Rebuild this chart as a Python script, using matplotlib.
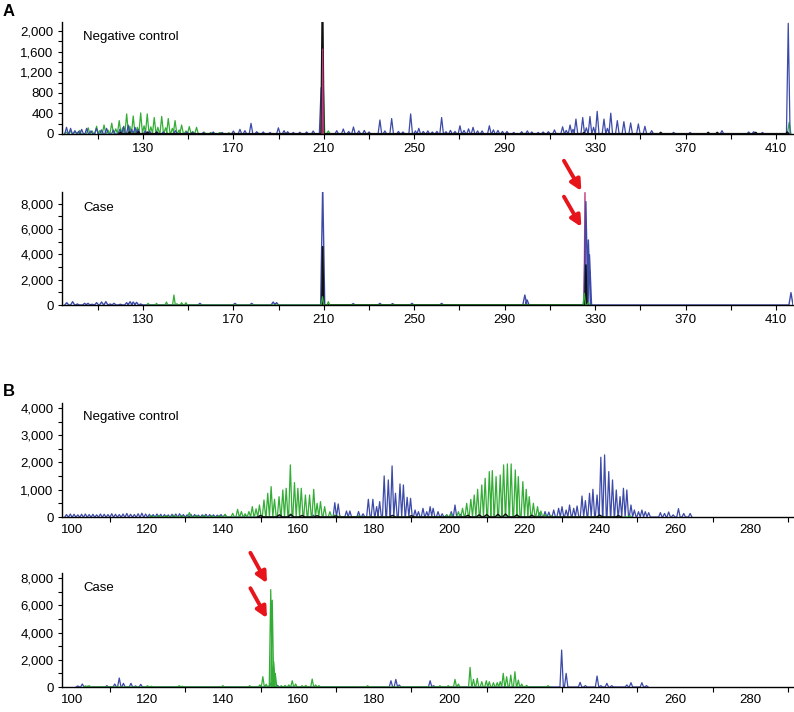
import numpy as np
import matplotlib.pyplot as plt
from matplotlib.ticker import FuncFormatter, MultipleLocator, FixedLocator

plt.rcParams['font.family'] = ['Liberation Sans', 'DejaVu Sans']

BLUE = '#3c4aa8'
GREEN = '#33ad36'
BLACK = '#111111'
MAGENTA = '#c23a80'

# ------------------------------
# Panel A - negative control (peak size in bp, height in RFU)
# ------------------------------
a1_blue_pos = [96.2, 98.0, 99.9, 101.5, 102.9, 105.1, 107.0, 109.4, 111.7, 113.9, 116.9, 119.8,
               121.5, 123.5, 125.0, 126.5, 127.9, 131.0, 133.0, 136.2, 139.0, 144.3, 149.4, 152.0,
               156.8, 161.1, 165.0, 170.0, 172.9, 175.1, 177.8, 180.3, 183.2, 186.2, 189.9, 192.4,
               194.0, 196.5, 199.4, 202.4, 205.3, 208.8, 215.7, 218.6, 221.0, 223.1, 225.5, 227.9,
               230.0, 234.8, 237.0, 240.0, 243.0, 245.0, 248.4, 250.5, 252.0, 254.0, 256.0, 258.0,
               260.0, 262.1, 264.0, 266.0, 268.0, 270.2, 272.0, 274.0, 276.0, 278.0, 280.0, 283.2,
               285.0, 287.0, 289.0, 291.0, 294.0, 297.5, 300.0, 302.0, 304.8, 307.0, 309.3, 312.0,
               315.6, 317.2, 318.9, 320.2, 321.5, 324.5, 326.1, 327.7, 329.3, 330.9, 333.9, 335.4,
               336.9, 339.8, 342.7, 345.7, 349.1, 352.0, 355.0, 364.7, 372.0, 386.1, 397.9, 400.1,
               404.0, 415.4]
a1_blue_ht = [130, 110, 65, 50, 90, 110, 60, 110, 80, 110, 78, 90,
              150, 170, 90, 130, 90, 60, 50, 45, 40, 65, 40, 35,
              30, 40, 30, 58, 90, 65, 207, 45, 40, 30, 120, 65,
              45, 30, 35, 40, 58, 900, 65, 97, 50, 136, 60, 70,
              40, 272, 60, 300, 50, 40, 390, 60, 110, 50, 60, 40,
              50, 320, 45, 70, 50, 160, 70, 100, 130, 60, 60, 160,
              80, 70, 50, 50, 30, 45, 60, 40, 30, 40, 45, 80,
              140, 70, 175, 90, 290, 320, 120, 340, 130, 440, 290, 110,
              405, 260, 240, 215, 195, 150, 65, 32, 30, 65, 40, 45,
              30, 2150]

a1_green_pos = [96.0, 98.0, 100.0, 102.0, 105.8, 107.5, 109.5, 111.0, 112.8, 114.5, 116.2, 118.0,
                119.5, 121.0, 122.8, 124.2, 125.7, 127.5, 129.0, 130.5, 131.9, 133.5, 135.0, 136.6,
                138.3, 140.0, 141.2, 143.0, 144.2, 146.0, 147.1, 149.0, 150.5, 152.0, 153.7, 157.0,
                160.0, 164.0, 168.0, 181.0, 209.6, 212.0, 415.8]
a1_green_ht = [40, 60, 50, 70, 120, 60, 150, 70, 175, 80, 210, 100,
               260, 120, 390, 150, 350, 130, 410, 160, 390, 140, 320, 130,
               340, 120, 300, 110, 260, 80, 175, 60, 145, 50, 130, 40,
               30, 30, 25, 20, 1200, 60, 225]

a1_black_pos = [120.0, 124.0, 128.0, 132.0, 136.0, 209.4, 325.0, 359.0, 380.0, 384.0, 401.0, 415.0]
a1_black_ht = [25, 30, 35, 30, 25, 2300, 20, 25, 25, 25, 25, 30]

a1_magenta_pos = [209.5]
a1_magenta_ht = [1650]

# ------------------------------
# Panel A - case
# ------------------------------
a2_blue_pos = [96.3, 98.9, 101.0, 104.2, 105.7, 107.5, 109.5, 111.7, 113.6, 115.5, 117.2, 120.0,
               122.8, 124.3, 125.7, 127.2, 129.0, 155.2, 170.7, 178.1, 187.6, 189.1, 209.5, 223.0,
               234.8, 240.4, 249.0, 262.1, 298.9, 299.9, 325.9, 327.0, 327.5, 416.6]
a2_blue_ht = [184, 263, 80, 132, 132, 60, 184, 237, 263, 80, 132, 60,
              184, 263, 237, 210, 80, 130, 130, 130, 237, 184, 9500, 110,
              130, 110, 130, 130, 790, 395, 8170, 5140, 3950, 975]

a2_green_pos = [132.3, 136.0, 140.4, 143.7, 145.0, 147.1, 149.0, 209.4, 212.0, 325.2, 327.0]
a2_green_ht = [130, 130, 237, 790, 100, 184, 184, 660, 263, 920, 180]

a2_black_pos = [209.5, 325.9]
a2_black_ht = [4600, 3160]

a2_magenta_pos = [209.5, 325.5]
a2_magenta_ht = [1450, 8880]

# ------------------------------
# Panel B - negative control
# ------------------------------
b1_blue_pos = [98.5, 99.5, 100.5, 101.5, 102.5, 103.5, 104.5, 105.5, 106.5, 107.5, 108.5, 109.5,
               110.5, 111.5, 112.5, 113.5, 114.5, 115.5, 116.5, 117.5, 118.5, 119.5, 120.5, 121.5,
               122.5, 123.5, 124.5, 125.5, 126.5, 127.5, 128.5, 129.5, 130.5, 131.5, 132.5, 133.5,
               134.5, 135.5, 136.5, 137.5, 138.5, 139.5, 140.5,
               146.0, 150.0, 158.0, 164.0, 169.7, 170.6, 172.8, 173.7, 176.0, 177.2, 178.6, 179.8,
               180.8, 181.6, 182.8, 183.9, 184.9, 185.8, 187.0, 187.9, 188.9, 189.8, 191.0, 191.9,
               193.1, 194.1, 195.0, 195.8, 197.1, 198.2, 199.4, 200.6, 201.6, 203.0, 224.0, 225.5,
               226.5, 227.8, 229.1, 230.0, 231.1, 232.0, 233.1, 234.0, 235.3, 236.2, 237.3, 238.2,
               239.3, 240.3, 241.3, 242.4, 243.4, 244.4, 245.4, 246.3, 247.2, 248.3, 249.2, 250.3,
               251.2, 252.1, 253.0, 256.1, 257.2, 258.3, 259.5, 260.9, 262.3, 264.0]
b1_blue_ht = [90, 110, 100, 80, 100, 110, 90, 100, 80, 110, 100, 90,
              120, 100, 90, 110, 130, 100, 90, 120, 140, 110, 100, 90,
              110, 100, 90, 80, 100, 110, 120, 90, 80, 100, 90, 70,
              80, 100, 90, 80, 70, 90, 80,
              60, 50, 80, 70, 527, 480, 220, 220, 200, 120, 650, 650,
              380, 564, 1507, 1360, 1875, 870, 1213, 1176, 723, 686, 257, 196,
              319, 196, 380, 320, 196, 120, 80, 196, 440, 100, 150, 200,
              180, 257, 320, 380, 257, 440, 320, 404, 770, 600, 870, 1017,
              808, 2193, 2279, 1666, 1360, 992, 747, 1054, 992, 440, 257, 196,
              257, 196, 160, 160, 130, 184, 80, 306, 130, 130]

b1_green_pos = [121.0, 123.0, 125.0, 127.0, 129.0, 131.1, 133.0, 135.0, 137.0, 139.0, 140.6, 142.6,
                143.9, 144.9, 145.9, 146.9, 147.8, 148.8, 149.7, 150.9, 151.9, 152.8, 153.7, 154.9,
                155.9, 156.8, 157.9, 159.0, 159.9, 160.8, 161.9, 163.0, 164.1, 165.0, 165.9, 167.0,
                168.4, 169.5, 171.0, 176.0, 199.4, 200.5, 202.5, 203.6, 204.7, 205.8, 206.7, 207.6,
                208.7, 209.6, 210.7, 211.5, 212.5, 213.6, 214.5, 215.5, 216.5, 217.6, 218.4, 219.6,
                220.5, 221.3, 222.4, 223.5, 224.4, 225.5, 227.0, 240.0, 248.0]
b1_green_ht = [50, 60, 50, 70, 60, 160, 60, 70, 50, 60, 100, 135,
               282, 200, 120, 200, 380, 300, 440, 625, 870, 1115, 650, 747,
               990, 1054, 1911, 1262, 1054, 1054, 808, 808, 1017, 502, 564, 380,
               196, 80, 50, 50, 80, 120, 196, 320, 502, 650, 808, 1017,
               1176, 1421, 1666, 1703, 1482, 1543, 1911, 1948, 1948, 1727, 1482, 1298,
               1017, 747, 502, 380, 220, 100, 60, 60, 50]

b1_black_pos = [150.0, 155.0, 158.0, 161.0, 165.0, 170.0, 185.0, 190.0, 205.0, 208.0, 210.0, 213.0,
                215.0, 218.0, 222.0, 240.0, 245.0]
b1_black_ht = [60, 80, 100, 60, 50, 40, 60, 50, 60, 80, 90, 100, 110, 80, 60, 70, 50]

# ------------------------------
# Panel B - case
# ------------------------------
b2_blue_pos = [101.5, 102.7, 104.0, 109.2, 111.3, 112.5, 113.6, 115.6, 116.8, 118.2, 152.6, 154.5,
               184.6, 185.9, 186.8, 195.0, 195.9, 229.9, 231.1, 234.8, 236.2, 239.3, 240.3, 241.9,
               243.2, 247.2, 248.3, 251.2, 252.4]
b2_blue_ht = [80, 220, 60, 100, 220, 660, 270, 270, 80, 195, 270, 120,
              460, 560, 150, 460, 100, 2710, 1000, 340, 100, 805, 100, 270,
              100, 150, 317, 317, 100]

b2_green_pos = [103.5, 104.5, 120.0, 121.0, 128.4, 129.2, 140.0, 147.1, 149.8, 150.6, 151.5, 152.7,
                153.1, 153.5, 153.9, 155.5, 156.5, 157.5, 158.4, 159.3, 161.0, 162.0, 163.7, 164.6,
                165.5, 178.4, 197.6, 199.8, 201.6, 202.5, 205.6, 206.5, 207.5, 208.7, 209.9, 210.7,
                211.8, 212.8, 213.6, 214.4, 215.3, 216.4, 217.5, 218.4, 219.3, 220.6, 226.3]
b2_green_ht = [80, 100, 100, 60, 100, 60, 100, 100, 150, 757, 200, 7150,
               6370, 1850, 1000, 100, 120, 150, 460, 220, 100, 120, 585, 150,
               100, 100, 100, 100, 560, 220, 1440, 560, 634, 390, 460, 390,
               317, 317, 400, 1000, 757, 880, 1120, 510, 220, 120, 100]


def trace(ax, pos, ht, color, w, lw=0.9, z=2):
    pos = np.asarray(pos, float)
    ht = np.asarray(ht, float)
    o = np.argsort(pos)
    p, h = pos[o], ht[o]
    xs = np.column_stack([p - w, p, p + w]).ravel()
    ys = np.column_stack([np.zeros_like(h), h, np.zeros_like(h)]).ravel()
    ax.plot(xs, ys, color=color, lw=lw, zorder=z, solid_joinstyle='round')


thousands = FuncFormatter(lambda v, _: f'{int(v):,}')


def style(ax, xlim, ylim, ymajor, yminor):
    ax.set_xlim(*xlim)
    ax.set_ylim(*ylim)
    for s in ['top', 'right']:
        ax.spines[s].set_visible(False)
    for s in ['left', 'bottom']:
        ax.spines[s].set_linewidth(1.0)
    ax.yaxis.set_major_locator(MultipleLocator(ymajor))
    ax.yaxis.set_minor_locator(MultipleLocator(yminor))
    ax.yaxis.set_major_formatter(thousands)
    ax.tick_params(axis='y', which='major', length=3, width=0.8, pad=3, labelsize=9.5)
    ax.tick_params(axis='y', which='minor', length=3, width=0.8)


W, H = 794, 712
fig = plt.figure(figsize=(W / 100, H / 100), dpi=100)


def add_ax(top_px, bottom_px):
    return fig.add_axes([62 / W, 1 - bottom_px / H, (793 - 62) / W, (bottom_px - top_px) / H])


# ---- A ----
ax1 = add_ax(22, 134)
ax2 = add_ax(192, 305)
for ax in (ax1, ax2):
    ax.xaxis.set_major_locator(FixedLocator([130, 170, 210, 250, 290, 330, 370, 410]))
    ax.xaxis.set_minor_locator(FixedLocator([110, 150, 190, 230, 270, 310, 350, 390]))
    ax.tick_params(axis='x', which='both', length=3.5, width=0.8, pad=3, labelsize=9.5)

trace(ax1, a1_green_pos, a1_green_ht, GREEN, 0.8)
trace(ax1, a1_blue_pos, a1_blue_ht, BLUE, 0.8)
trace(ax1, a1_black_pos, a1_black_ht, BLACK, 0.5, lw=1.6)
trace(ax1, a1_magenta_pos, a1_magenta_ht, MAGENTA, 0.3, lw=0.8)
style(ax1, (94.2, 417.5), (0, 2175), 400, 200)

trace(ax2, a2_blue_pos, a2_blue_ht, BLUE, 0.9, lw=1.0)
trace(ax2, a2_black_pos, a2_black_ht, BLACK, 0.4, lw=1.2)
trace(ax2, a2_magenta_pos, a2_magenta_ht, MAGENTA, 0.4, lw=1.0, z=1)
trace(ax2, a2_green_pos, a2_green_ht, GREEN, 0.6)
style(ax2, (94.2, 417.5), (0, 8930), 2000, 1000)

# ---- B ----
ax3 = add_ax(403, 517)
ax4 = add_ax(573, 687)
for ax in (ax3, ax4):
    ax.xaxis.set_major_locator(MultipleLocator(20))
    ax.xaxis.set_minor_locator(FixedLocator(list(range(110, 300, 20))))
    ax.tick_params(axis='x', which='major', length=0, pad=5, labelsize=9.5)
    ax.tick_params(axis='x', which='minor', length=3.5, width=0.8)

trace(ax3, b1_blue_pos, b1_blue_ht, BLUE, 0.45)
trace(ax3, b1_green_pos, b1_green_ht, GREEN, 0.45)
trace(ax3, b1_black_pos, b1_black_ht, BLACK, 0.8, lw=1.0)
style(ax3, (97.3, 291.3), (0, 4183), 1000, 500)

trace(ax4, b2_blue_pos, b2_blue_ht, BLUE, 0.45)
trace(ax4, b2_green_pos, b2_green_ht, GREEN, 0.4)
style(ax4, (97.3, 291.3), (0, 8367), 2000, 1000)

# ---- labels ----
fig.text(3 / W, 1 - 11 / H, 'A', fontsize=12, fontweight='bold', va='center', ha='left')
fig.text(3 / W, 1 - 392 / H, 'B', fontsize=12, fontweight='bold', va='center', ha='left')
for ypx, label in [(37, 'Negative control'), (208, 'Case'), (417, 'Negative control'), (588, 'Case')]:
    fig.text(83 / W, 1 - ypx / H, label, fontsize=9.5, va='center', ha='left')

# ---- red arrows ----
arrow = dict(arrowstyle='-|>', color='#e8141b', lw=2.8, mutation_scale=16, shrinkA=0, shrinkB=0)
for tail, head in [((316.2, 11400), (323.9, 9010)), ((316.2, 8560), (323.9, 6170))]:
    ax2.annotate('', xy=head, xytext=tail, arrowprops=arrow, annotation_clip=False)
for tail, head in [((147.3, 9850), (151.7, 7620)), ((147.3, 7250), (151.7, 5055))]:
    ax4.annotate('', xy=head, xytext=tail, arrowprops=arrow, annotation_clip=False)

fig.savefig('out.png', dpi=100)
